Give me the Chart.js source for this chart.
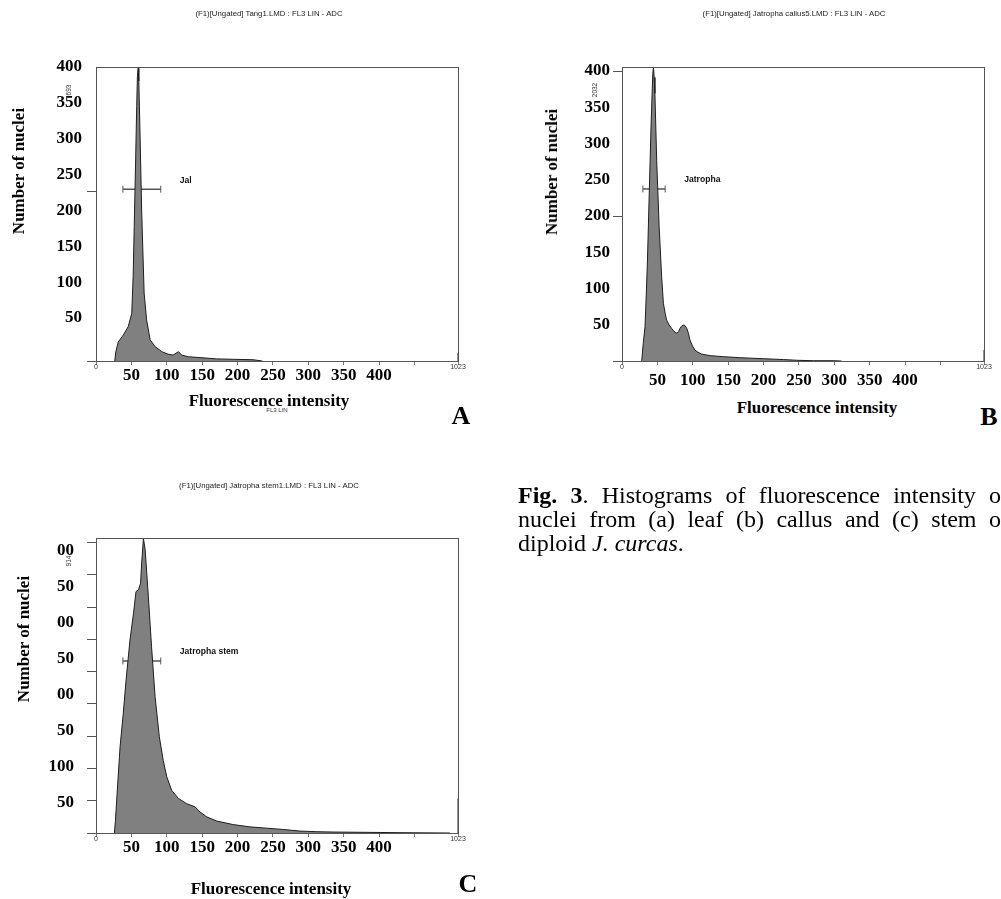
<!DOCTYPE html>
<html>
<head>
<meta charset="utf-8">
<script src="https://cdn.jsdelivr.net/npm/chart.js@4.4.1/dist/chart.umd.min.js"></script>
<style>
  html, body { margin: 0; padding: 0; width: 1001px; height: 899px; overflow: hidden; background: #fff; }
  canvas { position: absolute; }
  .t { position: absolute; white-space: nowrap; transform: translate(-50%, -50%); }
  .hdr { font: 7.8px "Liberation Sans", Arial, sans-serif; color: #222; }
  .ttl { font: bold 17px "Liberation Serif", "Times New Roman", serif; line-height: 20px; color: #000; }
  .rot { transform: translate(-50%, -50%) rotate(-90deg); }
  .tiny { font: 6px "Liberation Sans", Arial, sans-serif; color: #333; }
  .lt { font: bold 26px "Liberation Serif", "Times New Roman", serif; line-height: 26px; }
  .cap { position: absolute; left: 518px; width: 491px; font: 24px "Liberation Serif", "Times New Roman", serif;
         line-height: 24px; text-align: justify; text-align-last: justify; color: #000; }
</style>
</head>
<body>
<canvas id="chartA" width="480" height="400" style="left:0;top:0"></canvas>
<canvas id="chartB" width="461" height="387" style="left:540px;top:0"></canvas>
<canvas id="chartC" width="480" height="440" style="left:0;top:440px"></canvas>

<div class="t hdr" style="left:269px;top:13px">(F1)[Ungated] Tang1.LMD : FL3 LIN - ADC</div>
<div class="t hdr" style="left:794px;top:13px">(F1)[Ungated] Jatropha callus5.LMD : FL3 LIN - ADC</div>
<div class="t hdr" style="left:269px;top:485px">(F1)[Ungated] Jatropha stem1.LMD : FL3 LIN - ADC</div>

<div class="t ttl rot" style="left:19px;top:171px">Number of nuclei</div>
<div class="t ttl rot" style="left:552px;top:172px">Number of nuclei</div>
<div class="t ttl rot" style="left:24px;top:639px">Number of nuclei</div>

<div class="t tiny" style="left:277px;top:410px">FL3 LIN</div>
<div class="t ttl" style="left:269px;top:401px">Fluorescence intensity</div>
<div class="t ttl" style="left:817px;top:408px">Fluorescence intensity</div>
<div class="t tiny" style="left:795px;top:408px">FL3 LIN</div>
<div class="t ttl" style="left:271px;top:889px">Fluorescence intensity</div>

<div class="t lt" style="left:461px;top:416px">A</div>
<div class="t lt" style="left:989px;top:417px">B</div>
<div class="t lt" style="left:468px;top:884px">C</div>

<div class="cap" style="top:483px"><b>Fig. 3</b>. Histograms of fluorescence intensity of</div>
<div class="cap" style="top:507px">nuclei from (a) leaf (b) callus and (c) stem of</div>
<div class="cap" style="top:531px;text-align:left;text-align-last:left">diploid <i>J. curcas</i>.</div>

<script>
// FL3 LIN channel (0-1023) and number of nuclei per channel
const channelsA = [53, 56, 63, 77, 91, 101, 105, 108, 112, 115, 117, 119, 121, 124, 129, 136, 143, 153, 167, 186, 204, 218, 233, 242, 261, 294, 341, 388, 444, 470, 1022, 1023, 1023];
const countsA   = [0, 22, 45, 61, 81, 112, 199, 317, 474, 600, 670, 690, 660, 552, 356, 160, 97, 50, 34, 22, 16, 14, 22, 14, 10, 8, 5, 4, 3, 0, null, 0, 19];

const channelsB = [53, 56, 60, 65, 68, 72, 77, 82, 87, 89, 91, 93, 98, 105, 112, 117, 122, 126, 133, 140, 147, 155, 160, 164, 168, 173, 178, 183, 188, 192, 199, 206, 215, 225, 249, 286, 333, 399, 456, 494, 541, 597, 620, 1022, 1023, 1023];
const countsB   = [0, 7, 122, 237, 421, 698, 1159, 1619, 1988, 2032, 1960, 1850, 1389, 928, 583, 399, 330, 283, 250, 226, 205, 191, 205, 226, 240, 249, 245, 226, 190, 145, 105, 76, 60, 48, 37, 30, 23, 16, 10, 5, 2, 2, 0, null, 0, 76];

const channelsC = [52, 55, 59, 68, 77, 85, 96, 106, 113, 120, 126, 129, 134, 139, 148, 157, 167, 179, 190, 200, 214, 233, 256, 280, 294, 313, 341, 388, 435, 482, 529, 576, 624, 670, 765, 859, 1000, 1022, 1023, 1023];
const countsC   = [0, 40, 112, 267, 370, 474, 598, 681, 748, 753, 774, 836, 913, 877, 732, 577, 422, 298, 225, 174, 132, 107, 91, 81, 65, 50, 37, 26, 19, 15, 11, 6, 4, 3, 2, 1, 0, null, 0, 107];

// full-scale counts of the original cytometer plots
const countMaxA = 693;
const countMaxB = 2032;
const countMaxC = 914;
const countTicksA = [0, 400];
const countTicksB = [0, 1000, 2000];
const countTicksC = [0, 100, 200, 300, 400, 500, 600, 700, 800, 900];

// gate markers (channel range, count level) and their names
const gateA = [76, 183], gateLevelA = 405, gateNameA = 'Jal';
const gateB = [59, 122], gateLevelB = 1189, gateNameB = 'Jatropha';
const gateC = [76, 183], gateLevelC = 533, gateNameC = 'Jatropha stem';

// channel ticks, and the relabelled "Fluorescence intensity" ticks (channel / 2)
const channelTicks = [0, 100, 200, 300, 400, 500, 600, 700, 800, 900, 1023];
const intensityTicks = [100, 200, 300, 400, 500, 600, 700, 800];

// pasted-on "Number of nuclei" labels
const nucleiTicks = [50, 100, 150, 200, 250, 300, 350, 400];
const nucleiTextA = ['50', '100', '150', '200', '250', '300', '350', '400'];
const nucleiTextB = ['50', '100', '150', '200', '250', '300', '350', '400'];
const nucleiTextC = ['50', '100', '50', '00', '50', '00', '50', '00'];

const serif = "'Liberation Serif', 'Times New Roman', serif";
const sans = "'Liberation Sans', Arial, sans-serif";

const framePlugin = {
  id: 'frame',
  afterDatasetsDraw(chart) {
    const a = chart.chartArea, ctx = chart.ctx;
    ctx.save();
    ctx.strokeStyle = '#555';
    ctx.lineWidth = 1;
    ctx.strokeRect(Math.round(a.left) + 0.5, Math.round(a.top) + 0.5,
                   Math.round(a.right - a.left), Math.round(a.bottom - a.top));
    ctx.restore();
  }
};

function notesPlugin(gateName) {
  return {
    id: 'notes',
    afterDatasetsDraw(chart) {
      const ctx = chart.ctx, a = chart.chartArea;
      const gate = chart.getDatasetMeta(1).data;
      const end = gate[gate.length - 1];
      ctx.save();
      ctx.fillStyle = '#111';
      ctx.font = 'bold 8.6px ' + sans;
      ctx.textAlign = 'left';
      ctx.textBaseline = 'middle';
      ctx.fillText(gateName, end.x + 19, end.y - 9);
      // full-scale count printed sideways at the top of the axis
      ctx.translate(a.left - 27, a.top + 23);
      ctx.rotate(-Math.PI / 2);
      ctx.font = '6.5px ' + sans;
      ctx.textAlign = 'center';
      ctx.fillStyle = '#333';
      ctx.fillText(String(chart.scales.y.max), 0, 0);
      ctx.restore();
    }
  };
}

function makeChart(id, p) {
  return new Chart(document.getElementById(id), {
    type: 'line',
    data: {
      datasets: [
        {
          data: p.channels.map((c, i) => ({ x: c, y: p.counts[i] })),
          xAxisID: 'x', yAxisID: 'y',
          fill: 'origin',
          backgroundColor: '#808080',
          borderColor: '#1e1e1e',
          borderWidth: 1,
          pointRadius: 0,
          tension: 0,
          spanGaps: false
        },
        {
          data: p.gate.map(c => ({ x: c, y: p.gateLevel })),
          xAxisID: 'x', yAxisID: 'y',
          fill: false,
          borderColor: '#555',
          borderWidth: 1.5,
          pointStyle: 'line',
          rotation: 90,
          pointRadius: 3.5,
          pointBorderColor: '#555',
          pointBorderWidth: 1
        }
      ]
    },
    options: {
      responsive: false,
      animation: false,
      events: [],
      layout: { padding: p.pad },
      plugins: { legend: { display: false }, tooltip: { enabled: false } },
      scales: {
        x: {
          type: 'linear', position: 'bottom', weight: 0, min: 0, max: 1023,
          afterBuildTicks: s => { s.ticks = channelTicks.map(v => ({ value: v })); },
          afterFit: s => { s.height = 8; },
          grid: { drawOnChartArea: false, tickLength: 4, tickColor: '#777' },
          border: { display: false },
          ticks: {
            autoSkip: false, maxRotation: 0, minRotation: 0, padding: -1,
            font: { family: sans, size: 7, lineHeight: 1 }, color: '#333',
            callback: v => (v === 0 || v === 1023) ? String(v) : ''
          }
        },
        xl: {
          type: 'linear', position: 'bottom', weight: 1, min: 0, max: 1023,
          afterBuildTicks: s => { s.ticks = intensityTicks.map(v => ({ value: v })); },
          afterFit: s => { s.height = p.xlHeight; },
          grid: { display: false, drawTicks: false },
          border: { display: false },
          ticks: {
            autoSkip: false, maxRotation: 0, minRotation: 0, padding: p.xlPad,
            font: { family: serif, size: 17, weight: 'bold', lineHeight: 1 }, color: '#000',
            callback: v => String(v / 2)
          }
        },
        y: {
          type: 'linear', position: 'left', weight: 0, min: 0, max: p.countMax,
          afterBuildTicks: s => { s.ticks = p.countTicks.map(v => ({ value: v })); },
          afterFit: s => { s.width = 9; },
          grid: { drawOnChartArea: false, tickLength: 9, tickColor: '#555' },
          border: { display: false },
          ticks: { display: false }
        },
        yl: {
          type: 'linear', position: 'left', weight: 1, min: p.labelMin, max: p.labelMax,
          afterBuildTicks: s => { s.ticks = nucleiTicks.map(v => ({ value: v })); },
          afterFit: s => { s.width = p.ylWidth; },
          grid: { display: false, drawTicks: false },
          border: { display: false },
          ticks: {
            padding: p.ylPad,
            font: { family: serif, size: 17, weight: 'bold', lineHeight: 1 }, color: '#000',
            callback: (v, i) => p.labels[i]
          }
        }
      }
    },
    plugins: [framePlugin, notesPlugin(p.gateName)]
  });
}

makeChart('chartA', {
  channels: channelsA, counts: countsA, countMax: countMaxA, countTicks: countTicksA,
  gate: gateA, gateLevel: gateLevelA, gateName: gateNameA,
  labels: nucleiTextA, labelMin: -10, labelMax: 400,
  pad: { top: 67, right: 22, left: 0, bottom: 9 },
  ylWidth: 87, ylPad: 5, xlHeight: 22, xlPad: -1.5
});

makeChart('chartB', {
  channels: channelsB, counts: countsB, countMax: countMaxB, countTicks: countTicksB,
  gate: gateB, gateLevel: gateLevelB, gateName: gateNameB,
  labels: nucleiTextB, labelMin: 0, labelMax: 405.5,
  pad: { top: 67, right: 17, left: 0, bottom: 0 },
  ylWidth: 73, ylPad: 3, xlHeight: 18, xlPad: 3
});

makeChart('chartC', {
  channels: channelsC, counts: countsC, countMax: countMaxC, countTicks: countTicksC,
  gate: gateC, gateLevel: gateLevelC, gateName: gateNameC,
  labels: nucleiTextC, labelMin: 8.3, labelMax: 417.6,
  pad: { top: 98, right: 22, left: 0, bottom: 17 },
  ylWidth: 87, ylPad: 13, xlHeight: 22, xlPad: -1.5
});
</script>
</body>
</html>
